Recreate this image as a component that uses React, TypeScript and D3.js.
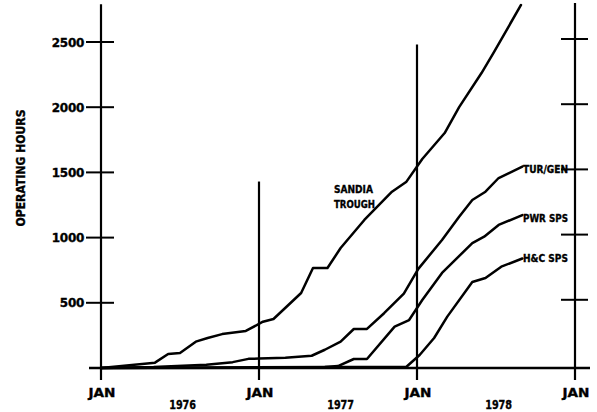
import React from "react";
import * as d3 from "d3";

// months since Jan 1976
const sandiaTrough: [number, number][] = [
  [0, 0], [4.1, 41], [5.1, 107], [6, 115], [7.2, 202], [8.1, 230], [9.2, 260], [11, 284],
  [12.3, 355], [13.1, 376], [15.2, 575], [16.1, 767], [17.2, 767], [18.2, 920], [20, 1135],
  [22.1, 1352], [23.2, 1429], [24.4, 1603], [26.1, 1802], [27.2, 2001], [28.9, 2262],
  [29.8, 2415], [31.9, 2784],
];
const turGen: [number, number][] = [
  [0, 0], [4, 8], [8, 25], [10, 45], [11.2, 70], [12, 72], [14, 78], [16, 94], [17, 140],
  [18.2, 202], [19.2, 299], [20.2, 300], [21.5, 420], [23, 570], [24.1, 760], [25.9, 982],
  [27.2, 1160], [28.2, 1288], [29.2, 1352], [30.2, 1457], [32, 1544],
];
const pwrSps: [number, number][] = [
  [0, 0], [12, 2], [17, 8], [18, 15], [19.2, 69], [20.2, 69], [22.3, 317], [23.4, 368],
  [24.4, 521], [25.9, 729], [28.2, 958], [29.1, 1007], [30.2, 1097], [32, 1173],
];
const hcSps: [number, number][] = [
  [0, 0], [23.2, 10], [24.2, 100], [25.3, 230], [26.3, 394], [28.2, 660], [29.2, 690],
  [30.4, 777], [32, 840],
];

const yTicks = [500, 1000, 1500, 2000, 2500];
const janMonths = [0, 12, 24, 36];
const janTops = [2790, 1430, 2480, 2800];
const yearLabels = ["1976", "1977", "1978"];
const yearMid = [6.2, 18.2, 30.2];

const FONT = "'DejaVu Sans', sans-serif";
const heavy = { stroke: "#000", strokeWidth: 0.35 };

export default function App() {
  const x = d3.scaleLinear().domain([0, 36]).range([101, 575]);
  const y = d3.scaleLinear().domain([0, 2500]).range([368, 42]);
  const line = d3
    .line<[number, number]>()
    .x((d) => x(d[0]))
    .y((d) => y(d[1]));

  const series = [sandiaTrough, turGen, pwrSps, hcSps];

  return (
    <svg
      width={597}
      height={412}
      style={{ position: "absolute", left: 0, top: 0, background: "#fff" }}
    >
      {/* baseline */}
      <line x1={89} x2={590} y1={y(0)} y2={y(0)} stroke="#000" strokeWidth={2.5} />
      {/* vertical Jan lines */}
      {janMonths.map((m, i) => (
        <line
          key={m}
          x1={x(m)}
          x2={x(m)}
          y1={y(janTops[i])}
          y2={380}
          stroke="#000"
          strokeWidth={2.2}
        />
      ))}
      {/* left ticks */}
      {yTicks.map((t) => (
        <g key={"l" + t}>
          <line x1={86} x2={114} y1={y(t)} y2={y(t)} stroke="#000" strokeWidth={2} />
          <text
            x={84}
            y={y(t) + 4.5}
            textAnchor="end"
            fontFamily={FONT}
            fontWeight="bold"
            fontSize={12}
            letterSpacing={-0.3}
            {...heavy}
          >
            {t}
          </text>
        </g>
      ))}
      {/* right ticks */}
      {yTicks.map((t) => (
        <line
          key={"r" + t}
          x1={561}
          x2={588}
          y1={y(t) - 3}
          y2={y(t) - 3}
          stroke="#000"
          strokeWidth={2}
        />
      ))}
      {/* series */}
      {series.map((s, i) => (
        <path
          key={i}
          d={line(s) || ""}
          fill="none"
          stroke="#000"
          strokeWidth={2.5}
          strokeLinejoin="round"
          strokeLinecap="round"
        />
      ))}
      {/* x labels */}
      {janMonths.map((m) => (
        <text
          key={"j" + m}
          x={x(m) + 1}
          y={397}
          textAnchor="middle"
          fontFamily={FONT}
          fontWeight="bold"
          fontSize={12}
          textLength={27}
          lengthAdjust="spacingAndGlyphs"
          {...heavy}
        >
          JAN
        </text>
      ))}
      {yearLabels.map((yl, i) => (
        <text
          key={yl}
          x={x(yearMid[i])}
          y={409}
          textAnchor="middle"
          fontFamily={FONT}
          fontWeight="bold"
          fontSize={12}
          textLength={27}
          lengthAdjust="spacingAndGlyphs"
          {...heavy}
        >
          {yl}
        </text>
      ))}
      {/* y axis title */}
      <text
        transform="translate(25,168) rotate(-90)"
        textAnchor="middle"
        fontFamily={FONT}
        fontWeight="bold"
        fontSize={12}
        textLength={117}
        lengthAdjust="spacingAndGlyphs"
        {...heavy}
      >
        OPERATING HOURS
      </text>
      {/* series labels */}
      <text x={334} y={193} fontFamily={FONT} fontWeight="bold" fontSize={10} textLength={39} lengthAdjust="spacingAndGlyphs" {...heavy}>
        SANDIA
      </text>
      <text x={334} y={208} fontFamily={FONT} fontWeight="bold" fontSize={10} textLength={41} lengthAdjust="spacingAndGlyphs" {...heavy}>
        TROUGH
      </text>
      <text x={523} y={173} fontFamily={FONT} fontWeight="bold" fontSize={10} textLength={45} lengthAdjust="spacingAndGlyphs" {...heavy}>
        TUR/GEN
      </text>
      <text x={523} y={222} fontFamily={FONT} fontWeight="bold" fontSize={10} textLength={45} lengthAdjust="spacingAndGlyphs" {...heavy}>
        PWR SPS
      </text>
      <text x={523} y={262} fontFamily={FONT} fontWeight="bold" fontSize={10} textLength={45} lengthAdjust="spacingAndGlyphs" {...heavy}>
        H&amp;C SPS
      </text>
    </svg>
  );
}
